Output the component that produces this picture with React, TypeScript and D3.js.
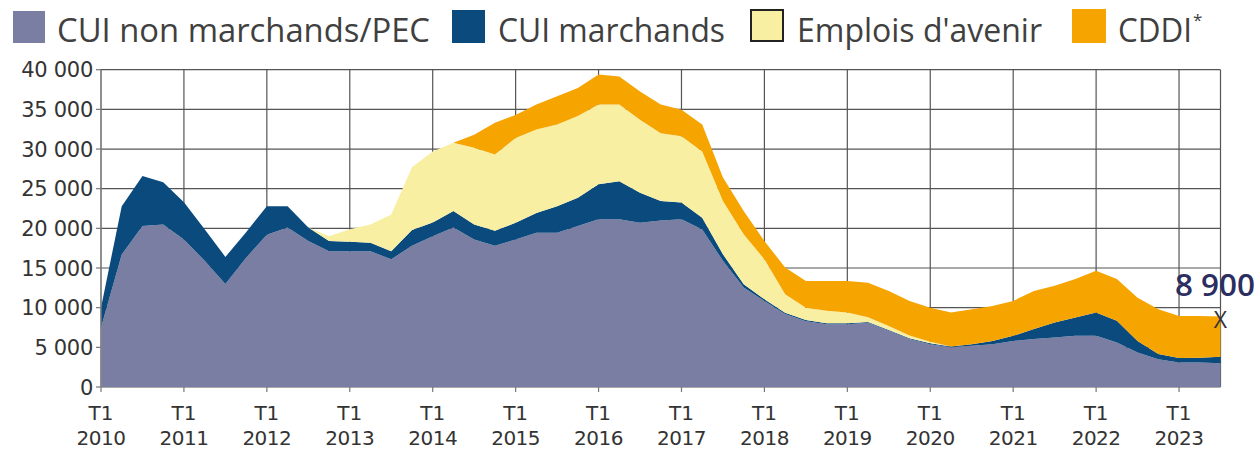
import React from "react";
import * as d3 from "d3";

const yearLabels = ["2010","2011","2012","2013","2014","2015","2016","2017","2018","2019","2020","2021","2022","2023"];
const yTicks = [0, 5000, 10000, 15000, 20000, 25000, 30000, 35000, 40000];

// quarterly values, T1 2010 .. T3 2023 (55 quarters)
const cuiNonMarchands = [7500,16700,20300,20500,18600,15900,13000,16300,19200,20100,18400,17100,17100,17100,16100,17800,19000,20100,18600,17800,18600,19450,19450,20300,21150,21150,20700,21000,21150,19850,15900,12550,10850,9200,8300,7900,7900,8100,7100,6050,5400,5000,5200,5400,5800,6050,6250,6450,6450,5600,4350,3500,3100,3100,3000];
const cuiMarchands = [2500,6100,6300,5300,4700,4000,3400,3200,3600,2700,1700,1300,1200,1100,1000,2000,1750,2100,1900,1900,2100,2500,3350,3550,4400,4800,3800,2450,2100,1500,850,400,200,150,150,150,150,100,100,100,100,100,200,400,650,1250,1880,2320,2950,2750,1450,650,550,600,800];
const emploisAvenir = [0,0,0,0,0,0,0,0,0,0,0,600,1600,2300,4650,7900,8950,8600,9650,9600,10700,10500,10300,10300,10050,9650,9200,8550,8350,8350,6700,6300,5050,2350,1550,1550,1350,600,500,350,200,0,0,0,0,0,0,0,0,0,0,0,0,0,0];
const cddi = [0,0,0,0,0,0,0,0,0,0,0,0,0,0,0,0,0,0,1650,4000,2900,3150,3550,3550,3800,3550,3550,3600,3350,3400,2950,2950,2300,3350,3350,3750,3950,4350,4400,4350,4300,4300,4400,4400,4400,4800,4620,4830,5250,5250,5450,5650,5300,5250,5100];

const seriesKeys = ["nm", "m", "ea", "cddi"];
const seriesNames = ["CUI non marchands/PEC", "CUI marchands", "Emplois d'avenir", "CDDI"];
const colors = ["#7a7ea3", "#0b4a7d", "#f8efa3", "#f5a400"];
const lastLabel = "8 900";

export default function App() {
  const W = 1259, H = 449;
  const x0 = 101, x1 = 1220.5;
  const n = cuiNonMarchands.length;
  const x = d3.scaleLinear().domain([0, n - 1]).range([x0, x1]);
  const y = d3.scaleLinear().domain([0, 40000]).range([387, 69.7]);

  const rows = cuiNonMarchands.map((v, i) => ({
    i, nm: v, m: cuiMarchands[i], ea: emploisAvenir[i], cddi: cddi[i],
  }));
  const stacked = d3.stack<any>().keys(seriesKeys)(rows);
  const area = d3.area<any>()
    .x((d: any) => x(d.data.i))
    .y0((d: any) => y(d[0]))
    .y1((d: any) => y(d[1]));

  const yearX = yearLabels.map((_, k) => x(k * 4));
  const gridColor = "#555";
  const total = rows[n - 1].nm + rows[n - 1].m + rows[n - 1].ea + rows[n - 1].cddi;

  const legend = [
    { sx: 13, sy: 11, sw: 32, tx: 57, tl: 373, stroke: false },
    { sx: 452, sy: 10, sw: 33, tx: 498, tl: 227, stroke: false },
    { sx: 751, sy: 10, sw: 32, tx: 797, tl: 245, stroke: true },
    { sx: 1072, sy: 9, sw: 34, tx: 1118, tl: 74, stroke: false },
  ];

  return (
    <svg width={W} height={H} style={{ position: "absolute", left: 0, top: 0, background: "#fff" }}>
      {/* legend */}
      {legend.map((l, k) => (
        <g key={k}>
          <rect x={l.sx} y={l.sy} width={l.sw} height={l.sw - (l.stroke ? 1 : 0)} fill={colors[k]}
            stroke={l.stroke ? "#222" : "none"} strokeWidth={l.stroke ? 2 : 0} />
          <text x={l.tx} y={42} fontFamily="Open Sans" fontSize={32} fill="#404040"
            textLength={l.tl} lengthAdjust="spacingAndGlyphs">{seriesNames[k]}</text>
        </g>
      ))}
      <text x={1193} y={26} fontFamily="Open Sans" fontSize={17} fill="#404040">*</text>

      {/* grid */}
      {yTicks.map((t) => (
        <line key={"h" + t} x1={x0} x2={x1} y1={y(t)} y2={y(t)} stroke={gridColor} strokeWidth={1.2} />
      ))}
      {yearX.map((px, k) => (
        <line key={"v" + k} x1={px} x2={px} y1={y(40000)} y2={y(0)} stroke={gridColor} strokeWidth={1.2} />
      ))}
      <line x1={x1} x2={x1} y1={y(40000)} y2={y(0)} stroke={gridColor} strokeWidth={1.2} />

      {/* areas */}
      {stacked.map((s: any, k: number) => (
        <path key={seriesKeys[k]} d={area(s) || ""} fill={colors[k]} />
      ))}

      {/* axes */}
      <line x1={x0} x2={x0} y1={y(40000)} y2={y(0)} stroke="#888" strokeWidth={1.2} />
      {yTicks.map((t) => (
        <g key={"yt" + t}>
          <line x1={x0 - 5} x2={x0} y1={y(t)} y2={y(t)} stroke="#777" strokeWidth={1.2} />
          <text x={93} y={y(t)} dy="0.36em" textAnchor="end" fontFamily="DejaVu Sans" fontSize={21}
            fill="#333" letterSpacing={-0.3}>{d3.format(",")(t).replace(/,/g, " ")}</text>
        </g>
      ))}
      {yearX.map((px, k) => (
        <g key={"xt" + k}>
          <line x1={px} x2={px} y1={y(0)} y2={y(0) + 5} stroke="#777" strokeWidth={1.2} />
          <text x={px} y={420} textAnchor="middle" fontFamily="DejaVu Sans" fontSize={20} fill="#333">T1</text>
          <text x={px} y={445} textAnchor="middle" fontFamily="DejaVu Sans" fontSize={20} fill="#333"
            letterSpacing={-0.5}>{yearLabels[k]}</text>
        </g>
      ))}

      {/* end annotation */}
      <text x={1175} y={296} fontFamily="Open Sans" fontWeight={600} fontSize={31} fill="#2b2e5e"
        textLength={80} lengthAdjust="spacingAndGlyphs">{lastLabel}</text>
      <text x={x(n - 1)} y={y(total) + 12} textAnchor="middle" fontFamily="Open Sans" fontSize={23} fill="#333">X</text>
    </svg>
  );
}
